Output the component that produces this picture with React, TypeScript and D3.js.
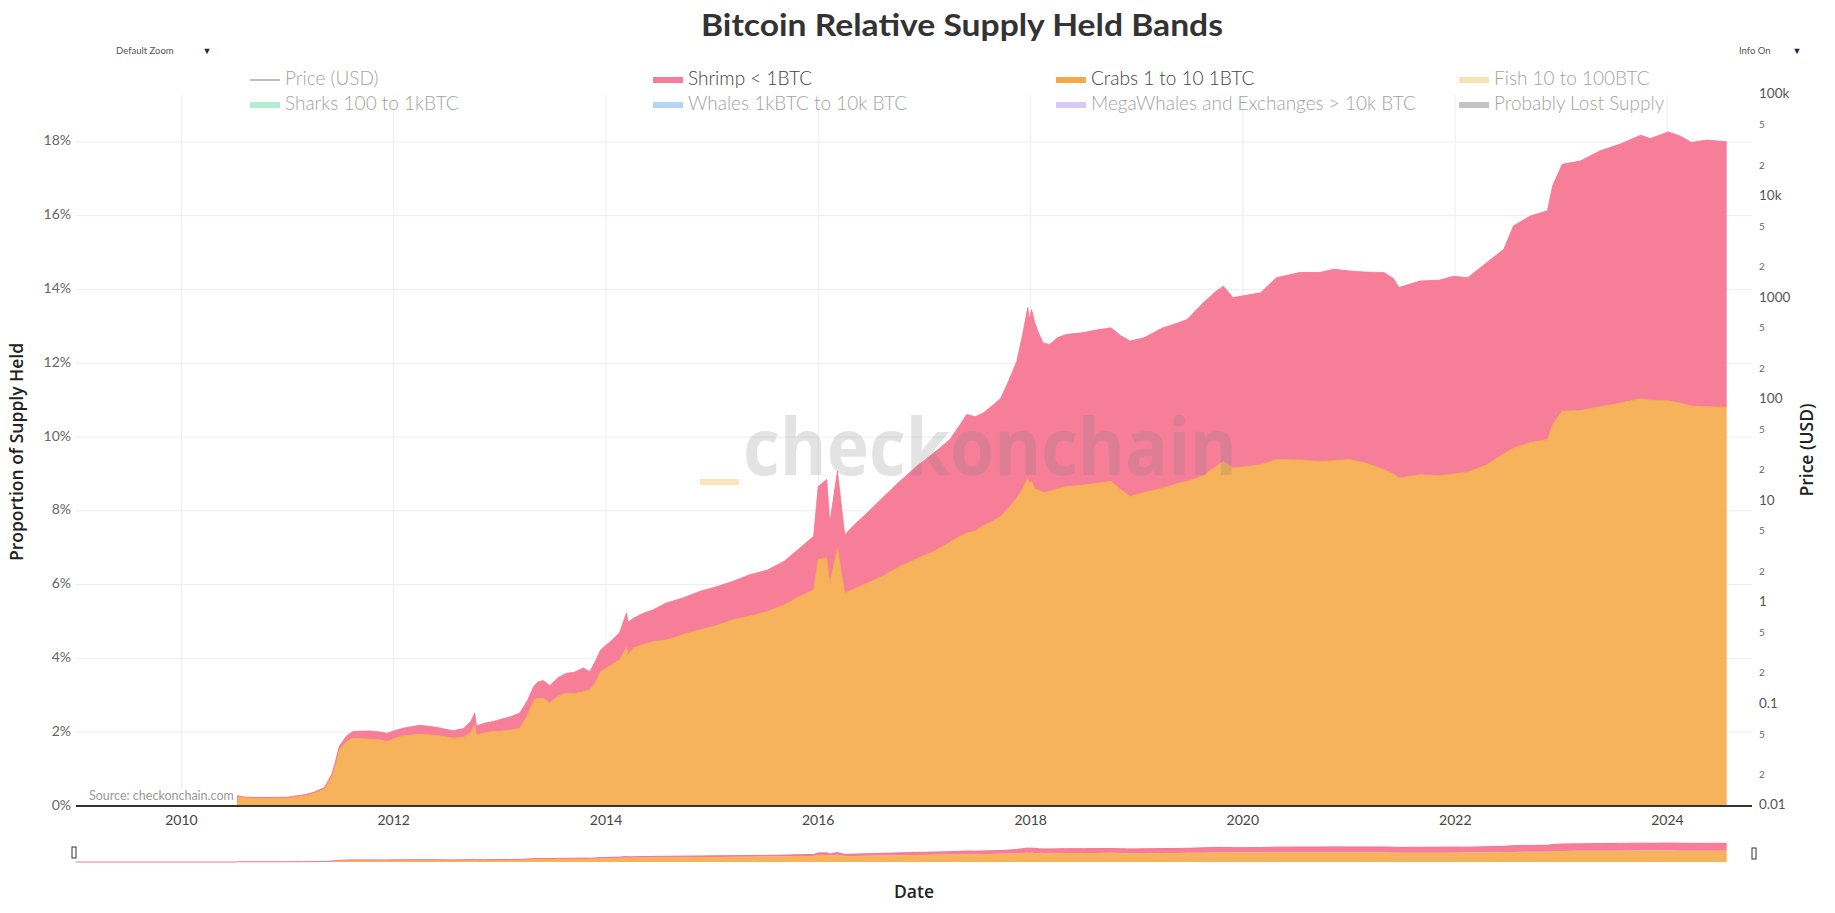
import React from 'react';
import * as d3 from 'd3';

// ---------- DATA ----------
const dates = [
  '2009-01-03','2010-07-09','2010-07-13','2010-08-07','2010-10-19','2011-01-01','2011-02-24','2011-04-01','2011-05-08','2011-06-02',
  '2011-06-13','2011-06-28','2011-07-23','2011-08-14','2011-09-12','2011-10-12','2011-11-10','2011-12-09','2012-01-08','2012-02-02',
  '2012-04-01','2012-05-30','2012-07-23','2012-08-29','2012-09-23','2012-10-06','2012-10-12','2012-11-06','2012-12-09','2013-01-08',
  '2013-02-06','2013-03-10','2013-04-05','2013-04-27','2013-05-11','2013-05-30','2013-06-21','2013-07-20','2013-08-18','2013-09-12',
  '2013-10-15','2013-11-06','2013-11-25','2013-12-13','2014-01-19','2014-02-16','2014-03-12','2014-03-18','2014-04-05','2014-05-08',
  '2014-06-13','2014-07-27','2014-09-23','2014-11-21','2015-01-19','2015-03-14','2015-05-11','2015-07-09','2015-09-05','2015-10-30',
  '2015-12-16','2016-01-01','2016-01-30','2016-02-10','2016-03-07','2016-04-01','2016-05-08','2016-06-17','2016-08-14','2016-10-08',
  '2016-12-05','2017-02-02','2017-03-29','2017-04-30','2017-05-26','2017-06-24','2017-07-23','2017-08-22','2017-09-20','2017-10-19',
  '2017-11-14','2017-12-05','2017-12-22','2017-12-27','2018-01-04','2018-01-15','2018-01-29','2018-02-13','2018-03-07','2018-04-05',
  '2018-05-04','2018-07-02','2018-08-14','2018-10-04','2018-11-06','2018-12-09','2019-01-26','2019-04-01','2019-05-26','2019-06-24',
  '2019-08-18','2019-10-01','2019-10-26','2019-11-28','2020-01-18','2020-03-02','2020-04-26','2020-07-15','2020-09-22','2020-11-09',
  '2021-01-01','2021-02-24','2021-04-30','2021-06-02','2021-06-21','2021-09-02','2021-11-06','2021-12-27','2022-02-13','2022-04-20',
  '2022-06-17','2022-07-20','2022-09-16','2022-11-14','2022-12-02','2023-01-04','2023-03-07','2023-05-15','2023-07-23','2023-10-01',
  '2023-11-03','2024-01-04','2024-02-13','2024-03-24','2024-05-14','2024-07-23'
];

// Crabs 1 to 10 BTC (% of supply)
const crabs = [
  0, 0, 0.27, 0.23, 0.22, 0.22, 0.27, 0.34, 0.46, 0.80,
  1.07, 1.52, 1.75, 1.84, 1.83, 1.81, 1.80, 1.75, 1.84, 1.90,
  1.95, 1.91, 1.84, 1.86, 2.00, 2.20, 1.93, 1.98, 2.02, 2.03,
  2.06, 2.11, 2.45, 2.88, 2.92, 2.92, 2.79, 2.98, 3.06, 3.04,
  3.10, 3.15, 3.35, 3.64, 3.82, 3.96, 4.30, 4.10, 4.28, 4.38,
  4.46, 4.50, 4.65, 4.78, 4.90, 5.05, 5.15, 5.27, 5.45, 5.68,
  5.86, 6.68, 6.72, 6.04, 6.99, 5.77, 5.90, 6.04, 6.25, 6.49,
  6.70, 6.90, 7.15, 7.30, 7.40, 7.45, 7.60, 7.72, 7.85, 8.10,
  8.35, 8.60, 8.89, 8.75, 8.80, 8.60, 8.55, 8.50, 8.53, 8.60,
  8.66, 8.70, 8.75, 8.80, 8.58, 8.39, 8.50, 8.62, 8.75, 8.80,
  8.95, 9.20, 9.34, 9.16, 9.20, 9.25, 9.39, 9.38, 9.34, 9.36,
  9.39, 9.30, 9.12, 9.00, 8.89, 8.98, 8.95, 9.00, 9.05, 9.25,
  9.55, 9.70, 9.85, 9.93, 10.34, 10.70, 10.72, 10.82, 10.92, 11.04,
  11.00, 10.98, 10.92, 10.84, 10.82, 10.81
];

// Shrimp < 1 BTC (% of supply)
const shrimp = [
  0, 0, 0.01, 0.01, 0.01, 0.02, 0.03, 0.03, 0.04, 0.06,
  0.08, 0.10, 0.15, 0.18, 0.20, 0.22, 0.21, 0.22, 0.21, 0.21,
  0.24, 0.22, 0.20, 0.24, 0.30, 0.32, 0.24, 0.26, 0.27, 0.33,
  0.36, 0.41, 0.40, 0.36, 0.44, 0.48, 0.47, 0.50, 0.54, 0.58,
  0.64, 0.49, 0.57, 0.59, 0.66, 0.73, 0.93, 0.88, 0.81, 0.84,
  0.86, 1.00, 0.99, 1.04, 1.05, 1.04, 1.12, 1.12, 1.18, 1.31,
  1.45, 1.98, 2.13, 1.63, 2.08, 1.58, 1.75, 1.90, 2.14, 2.31,
  2.51, 2.67, 2.78, 3.00, 3.21, 3.10, 3.06, 3.13, 3.20, 3.45,
  3.70, 4.20, 4.62, 4.45, 4.65, 4.50, 4.25, 4.05, 3.98, 4.10,
  4.12, 4.13, 4.15, 4.16, 4.17, 4.21, 4.19, 4.34, 4.35, 4.39,
  4.69, 4.75, 4.75, 4.62, 4.65, 4.66, 4.93, 5.08, 5.12, 5.19,
  5.11, 5.17, 5.34, 5.30, 5.16, 5.25, 5.30, 5.36, 5.27, 5.48,
  5.54, 6.02, 6.14, 6.20, 6.47, 6.69, 6.76, 6.94, 7.02, 7.14,
  7.09, 7.29, 7.24, 7.14, 7.23, 7.19
];

const leftTicks = [0, 2, 4, 6, 8, 10, 12, 14, 16, 18];
const yearTicks = [2010, 2012, 2014, 2016, 2018, 2020, 2022, 2024];
const priceMajor = [0.01, 0.1, 1, 10, 100, 1000, 10000, 100000];
const priceMajorLabels = ['0.01', '0.1', '1', '10', '100', '1000', '10k', '100k'];
const priceMinorMult = [2, 5];

const legendNames = [
  'Price (USD)', 'Shrimp < 1BTC', 'Crabs 1 to 10 1BTC', 'Fish 10 to 100BTC',
  'Sharks 100 to 1kBTC', 'Whales 1kBTC to 10k BTC', 'MegaWhales and Exchanges > 10k BTC', 'Probably Lost Supply'
];
const legendColors = ['#555555', '#f77e99', '#f4a94a', '#f1c767', '#6bd9b1', '#6fa7eb', '#ad9bef', '#898989'];
const legendVisible = [false, true, true, false, false, false, false, false];

// ---------- LAYOUT ----------
const W = 1835;
const H = 913;
const PL = 76, PR = 1752, PT = 95, PB = 806;
const SL_TOP = 842, SL_BOT = 862;

const FONT = 'Lato, "Open Sans", sans-serif';
const FONT_T = '"Open Sans", Lato, sans-serif';

export default function App() {
  const parse = d3.utcParse('%Y-%m-%d');
  const rows = dates.map((d, i) => ({ date: parse(d) as Date, crabs: crabs[i], shrimp: shrimp[i] }));

  const x = d3.scaleUtc()
    .domain([parse('2009-01-03') as Date, parse('2024-10-18') as Date])
    .range([PL, PR]);
  const yMax = 19.27;
  const y = d3.scaleLinear().domain([0, yMax]).range([PB, PT]);
  const yP = d3.scaleLog().domain([0.01, 100000]).range([PB, PT]);
  const ys = d3.scaleLinear().domain([0, yMax]).range([SL_BOT, SL_TOP]);

  const stack = d3.stack<any>().keys(['crabs', 'shrimp']);
  const series = stack(rows);
  const fills = ['#f7b25c', '#f77e99'];
  const strokes = ['#f4a64a', '#f47592'];

  const area = d3.area<any>()
    .x((d) => x(d.data.date))
    .y0((d) => y(d[0]))
    .y1((d) => y(d[1]));
  const line = d3.line<any>()
    .x((d) => x(d.data.date))
    .y((d) => y(d[1]));
  const areaS = d3.area<any>()
    .x((d) => x(d.data.date))
    .y0((d) => ys(d[0]))
    .y1((d) => ys(d[1]));
  const lineS = d3.line<any>()
    .x((d) => x(d.data.date))
    .y((d) => ys(d[1]));

  const minor: number[] = [];
  priceMajor.slice(0, -1).forEach((p) => priceMinorMult.forEach((m) => minor.push(p * m)));

  const colX = [250, 653, 1056, 1459];
  const rowY = [80, 105];

  return (
    <svg width={W} height={H} style={{ position: 'absolute', left: 0, top: 0, display: 'block', background: '#fff' }}>
      <rect x={0} y={0} width={W} height={H} fill="#fff" />

      {/* gridlines */}
      {leftTicks.map((t) => (
        <line key={'hg' + t} x1={PL} x2={PR} y1={y(t)} y2={y(t)} stroke="#eeeeee" strokeWidth={1} />
      ))}
      {yearTicks.map((t) => {
        const xx = x(Date.UTC(t, 0, 1));
        return <line key={'vg' + t} x1={xx} x2={xx} y1={PT} y2={PB} stroke="#eeeeee" strokeWidth={1} />;
      })}

      {/* stacked areas */}
      {series.map((s, i) => (
        <path key={'a' + i} d={area(s) || ''} fill={fills[i]} />
      ))}
      {series.map((s, i) => (
        <path key={'l' + i} d={line(s) || ''} fill="none" stroke={strokes[i]} strokeWidth={0.8} />
      ))}

      {/* baseline */}
      <line x1={PL} x2={PR} y1={PB} y2={PB} stroke="#333" strokeWidth={2} />

      {/* watermark */}
      <rect x={700} y={479} width={39} height={6} fill="#fde4be" />
      <text x={743} y={475} fontFamily={FONT_T} fontWeight={700} fontSize={78} fill="#7f7f7f" fillOpacity={0.22}
        textLength={494} lengthAdjust="spacingAndGlyphs">checkonchain</text>

      {/* source annotation */}
      <rect x={86} y={789} width={151} height={16} fill="#fff" />
      <text x={89} y={797} dominantBaseline="middle" fontFamily={FONT} fontSize={12.5} fill="#999">Source: checkonchain.com</text>

      {/* left axis labels */}
      {leftTicks.map((t) => (
        <text key={'lt' + t} x={71} y={y(t)} textAnchor="end" dominantBaseline="middle" fontFamily={FONT} fontSize={14} fill="#666">{t}%</text>
      ))}

      {/* right price axis */}
      {priceMajor.map((p, i) => (
        <text key={'pm' + p} x={1759} y={yP(p)} dominantBaseline="middle" fontFamily={FONT} fontSize={13.5} fill="#555">{priceMajorLabels[i]}</text>
      ))}
      {minor.map((p) => (
        <text key={'pn' + p} x={1759} y={yP(p)} dominantBaseline="middle" fontFamily={FONT} fontSize={10} fill="#666">{String(Math.round(p / Math.pow(10, Math.floor(Math.log10(p) + 1e-9))))}</text>
      ))}

      {/* x axis labels */}
      {yearTicks.map((t) => (
        <text key={'xt' + t} x={x(Date.UTC(t, 0, 1))} y={821} textAnchor="middle" dominantBaseline="middle" fontFamily={FONT} fontSize={14} fill="#444">{t}</text>
      ))}

      {/* range slider */}
      {series.map((s, i) => (
        <path key={'s' + i} d={areaS(s) || ''} fill={fills[i]} />
      ))}
      <path d={lineS(series[1]) || ''} fill="none" stroke={strokes[1]} strokeWidth={1} />
      <rect x={72} y={847} width={4} height={11} fill="#fff" stroke="#333" strokeWidth={1} />
      <rect x={1752} y={848} width={4} height={11} fill="#fff" stroke="#333" strokeWidth={1} />

      {/* title */}
      <text x={701} y={36} textAnchor="start" fontFamily={FONT} fontWeight={700} fontSize={31} fill="#333"
        textLength={522} lengthAdjust="spacingAndGlyphs">Bitcoin Relative Supply Held Bands</text>

      {/* dropdown labels */}
      <text x={116} y={52} dominantBaseline="middle" fontFamily={FONT} fontSize={9.5} fill="#555">Default Zoom</text>
      <text x={207} y={52} textAnchor="middle" dominantBaseline="middle" fontFamily={FONT} fontSize={9} fill="#1a2a44">▼</text>
      <text x={1739} y={52} dominantBaseline="middle" fontFamily={FONT} fontSize={9.5} fill="#555">Info On</text>
      <text x={1797} y={52} textAnchor="middle" dominantBaseline="middle" fontFamily={FONT} fontSize={9} fill="#1a2a44">▼</text>

      {/* legend */}
      {legendNames.map((name, i) => {
        const cx = colX[i % 4];
        const cy = rowY[Math.floor(i / 4)];
        const op = legendVisible[i] ? 1 : 0.5;
        return (
          <g key={'lg' + i} opacity={op}>
            {i === 0 ? (
              <line x1={cx} x2={cx + 30} y1={cy} y2={cy} stroke={legendColors[i]} strokeWidth={1.5} />
            ) : (
              <rect x={cx} y={cy - 3} width={30} height={6} fill={legendColors[i]} />
            )}
            <text x={cx + 35} y={cy} dominantBaseline="middle" fontFamily={FONT} fontWeight={300} fontSize={19} fill="#444">{name}</text>
          </g>
        );
      })}

      {/* axis titles */}
      <text transform="translate(18,452) rotate(-90)" textAnchor="middle" dominantBaseline="middle" fontFamily={FONT_T} fontWeight={600} fontSize={17.5} fill="#222">Proportion of Supply Held</text>
      <text transform="translate(1808,450) rotate(-90)" textAnchor="middle" dominantBaseline="middle" fontFamily={FONT_T} fontWeight={600} fontSize={17.5} fill="#222">Price (USD)</text>
      <text x={914} y={893} textAnchor="middle" dominantBaseline="middle" fontFamily={FONT_T} fontWeight={600} fontSize={17.5} fill="#222">Date</text>
    </svg>
  );
}
